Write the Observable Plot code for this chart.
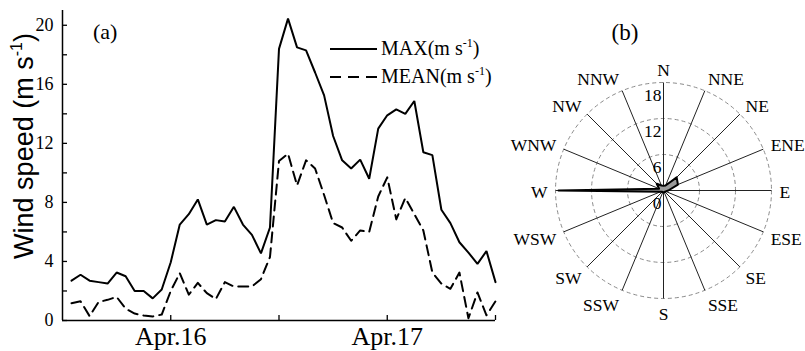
<!DOCTYPE html>
<html><head><meta charset="utf-8">
<script src="https://cdn.jsdelivr.net/npm/d3@7"></script>
<script src="https://cdn.jsdelivr.net/npm/@observablehq/plot@0.6"></script>
<style>
body{margin:0;background:#fff;}
#wrap{position:relative;width:805px;height:351px;overflow:hidden;background:#fff;}
#pa{position:absolute;left:0;top:0;}
#pb{position:absolute;left:500px;top:0;}
</style></head><body>
<div id="wrap"><div id="pa"></div><div id="pb"></div></div>
<script>
// ---- Panel (a) data: hourly wind speed, hour 0 = Apr.15 12:00 ----
const hours = [1,2,3,4,5,6,7,8,9,10,11,12,13,14,15,16,17,18,19,20,21,22,23,24,
               25,26,27,28,29,30,31,32,33,34,35,36,37,38,39,40,41,42,43,44,45,46,47,48];
const maxSpeed = [2.7,3.1,2.7,2.6,2.5,3.25,3.0,2.0,2.0,1.5,2.1,3.95,
                  6.5,7.2,8.2,6.5,6.8,6.7,7.7,6.5,5.8,4.55,6.3,18.4,
                  20.45,18.5,18.3,16.8,15.25,12.5,10.85,10.3,10.9,9.6,13.0,13.9,
                  14.3,14.0,14.87,11.4,11.2,7.5,6.6,5.3,4.6,3.84,4.7,2.6];
const meanSpeed = [1.17,1.3,0.3,1.25,1.4,1.6,0.8,0.47,0.34,0.27,0.4,2.0,
                   3.2,1.75,2.55,1.85,1.45,2.6,2.3,2.3,2.3,2.8,4.3,10.8,
                   11.3,9.15,10.85,10.3,8.5,6.6,6.3,5.4,6.1,6.0,8.4,9.7,
                   6.85,8.3,7.2,6.1,3.25,2.5,2.15,3.25,0.15,1.9,0.35,1.3];
const xTickHours = [12, 24, 36, 48];
const xLabelHours = [12, 36];
const xLabels = ["Apr.16", "Apr.17"];
const yTicks = [0,2,4,6,8,10,12,14,16,18,20];
const yLabelTicks = [0,4,8,12,16,20];

// ---- Panel (b) data: wind rose ----
const directions = ["N","NNE","NE","ENE","E","ESE","SE","SSE","S","SSW","SW","WSW","W","WNW","NW","NNW"];
const roseValues = [0.8,0.9,3.1,2.6,0.8,0.4,0.3,0.3,0.3,0.3,0.3,0.5,17.5,0.8,1.6,0.9];
const ringValues = [6, 12, 18];
const ringLabelValues = [0, 6, 12, 18];
const spokeLength = 18;

const serif = "'Liberation Serif','Times New Roman',serif";
const sans = "'Liberation Sans',Arial,sans-serif";

// ---------- Panel (a) ----------
const series = hours.map((h, i) => ({h, max: maxSpeed[i], mean: meanSpeed[i]}));
const plotA = Plot.plot({
  width: 520, height: 351,
  marginLeft: 62, marginRight: 25, marginTop: 10, marginBottom: 31,
  style: {fontFamily: serif, fontSize: "18px", color: "#000", background: "transparent"},
  x: {type: "linear", domain: [0, 48], label: null},
  y: {domain: [0, 21], label: null},
  marks: [
    Plot.line(series, {x: "h", y: "mean", stroke: "#000", strokeWidth: 2, strokeDasharray: "10,6"}),
    Plot.line(series, {x: "h", y: "max", stroke: "#000", strokeWidth: 2, strokeLinejoin: "miter"}),
    Plot.axisY(yTicks, {tickSize: -5, text: null, strokeWidth: 1.3}),
    Plot.axisY(yLabelTicks, {tickSize: 0, tickPadding: 9, fontSize: 18}),
    Plot.axisX(xTickHours, {tickSize: -5, text: null, strokeWidth: 1.3}),
    Plot.axisX(xLabelHours, {tickSize: 0, tickPadding: 6, fontSize: 26,
      tickFormat: d => xLabels[xLabelHours.indexOf(d)]}),
    Plot.ruleX([0], {strokeWidth: 1.5}),
    Plot.ruleY([0], {strokeWidth: 1.5})
  ]
});
document.getElementById("pa").appendChild(plotA);

const sa = d3.select(plotA);
// y-axis title
const yt = sa.append("text")
  .attr("transform", "translate(33,146) rotate(-90)")
  .attr("text-anchor", "middle")
  .attr("font-family", sans).attr("font-size", 27).attr("fill", "#000");
yt.append("tspan").text("Wind speed (m s");
yt.append("tspan").attr("font-size", 16).attr("dy", -11).text("-1");
yt.append("tspan").attr("dy", 11).text(")");
// panel tag
sa.append("text").attr("x", 93).attr("y", 39).attr("text-anchor", "start")
  .attr("font-family", serif).attr("font-size", 22).attr("fill", "#000").text("(a)");
// legend
const legendItems = [
  {name: "MAX", dash: null, y: 49},
  {name: "MEAN", dash: "11,7", y: 77}
];
legendItems.forEach(it => {
  sa.append("line").attr("x1", 330).attr("x2", 377).attr("y1", it.y).attr("y2", it.y)
    .attr("stroke", "#000").attr("stroke-width", 2)
    .attr("stroke-dasharray", it.dash);
  const t = sa.append("text").attr("x", 381).attr("y", it.y + 6).attr("text-anchor", "start")
    .attr("font-family", serif).attr("font-size", 20).attr("fill", "#000");
  t.append("tspan").text(it.name + "(m s");
  t.append("tspan").attr("font-size", 12).attr("dy", -8).text("-1");
  t.append("tspan").attr("dy", 8).text(")");
});

// ---------- Panel (b) ----------
const stepAngle = Math.PI / 8;
const spokes = directions.map((d, i) => ({
  d, x2: spokeLength * Math.sin(i * stepAngle), y2: spokeLength * Math.cos(i * stepAngle)
}));
const rosePts = directions.map((d, i) => ({
  d, x: roseValues[i] * Math.sin(i * stepAngle), y: roseValues[i] * Math.cos(i * stepAngle)
}));
const gapU = 8 / 6, halfH = 1;
const dirLabels = directions.map((d, i) => {
  const ux = Math.sin(i * stepAngle), uy = Math.cos(i * stepAngle);
  const rr = spokeLength + gapU;
  return {d, ux, x: ux * rr, y: uy * rr + uy * halfH};
});
const eastL = dirLabels.filter(l => l.ux > 0.05);
const westL = dirLabels.filter(l => l.ux < -0.05);
const midL = dirLabels.filter(l => Math.abs(l.ux) <= 0.05);

const plotB = Plot.plot({
  width: 305, height: 351,
  marginLeft: 31, marginRight: 10, marginTop: 58, marginBottom: 29,
  style: {fontFamily: serif, fontSize: "17.5px", color: "#000", background: "transparent"},
  x: {domain: [-22, 22], axis: null},
  y: {domain: [-22, 22], axis: null},
  r: {type: "linear", domain: [0, 22], range: [0, 132]},
  marks: [
    Plot.dot(ringValues, {x: () => 0, y: () => 0, r: d => d, fill: "none",
      stroke: "#8a8a8a", strokeWidth: 1, strokeDasharray: "4,3"}),
    Plot.link(spokes, {x1: () => 0, y1: () => 0, x2: "x2", y2: "y2", stroke: "#222", strokeWidth: 1}),
    Plot.line(rosePts, {x: "x", y: "y", curve: "linear-closed", fill: "#9a9a9a",
      stroke: "#000", strokeWidth: 2}),
    Plot.text(ringLabelValues, {x: () => 0, y: d => d, text: d => String(d),
      textAnchor: "end", dx: -2, dy: 12.5, fontSize: 17.5}),
    Plot.text(eastL, {x: "x", y: "y", text: "d", textAnchor: "start", dy: 2}),
    Plot.text(westL, {x: "x", y: "y", text: "d", textAnchor: "end", dy: 2}),
    Plot.text(midL, {x: "x", y: "y", text: "d", textAnchor: "middle", dy: 2})
  ]
});
document.getElementById("pb").appendChild(plotB);
d3.select(plotB).append("text").attr("x", 125).attr("y", 40).attr("text-anchor", "middle")
  .attr("font-family", serif).attr("font-size", 23).attr("fill", "#000").text("(b)");
</script>
</body></html>
